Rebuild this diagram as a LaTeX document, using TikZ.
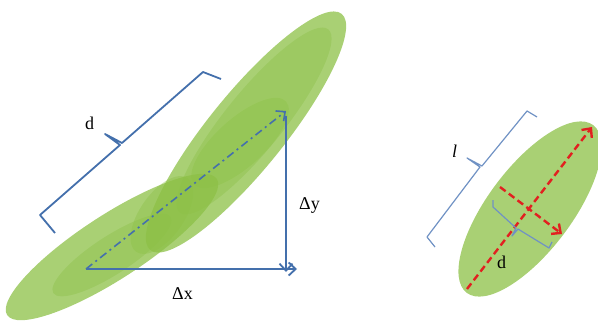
\documentclass[tikz,border=0pt]{standalone}
\usepackage{fontspec}
\setmainfont{Liberation Serif}
\usepackage{tikz}
\usetikzlibrary{calc,arrows.meta,positioning}
\usepackage{xcolor}
\definecolor{leafgreen}{RGB}{140,192,70}
\definecolor{dimblue}{RGB}{68,112,172}
\definecolor{thinblue}{RGB}{112,146,196}
\definecolor{arrowred}{RGB}{226,32,32}

\begin{document}
\begin{tikzpicture}[x=1pt, y=-1pt,
  every node/.style={font=\fontsize{18}{20}\selectfont, inner sep=0pt},
  leaf/.style={fill=leafgreen, fill opacity=0.75},
  core/.style={fill=leafgreen, fill opacity=0.4},
  vec/.style={dimblue, line width=1.8pt, -{Straight Barb[length=7pt, width=13pt]}},
  axis/.style={arrowred, line width=2.4pt, dash pattern=on 7pt off 4pt,
    -{Straight Barb[length=7pt, width=13pt]}},
  bigbrkt/.style={dimblue, line width=1.8pt, line join=round},
  smallbrkt/.style={thinblue, line width=1.2pt, line join=round}]
\useasboundingbox (0,0) rectangle (598,324);

% Left: chain of overlapping cells
\fill[leaf, rotate around={33:(112,247)}] (112,247) ellipse (125 and 32);
\fill[leaf, rotate around={51:(246,132)}] (246,132) ellipse (152 and 38);
\fill[core, rotate around={51:(254,121)}] (254,121) ellipse (118 and 29);
\fill[core, rotate around={33:(112,255)}] (112,255) ellipse (70 and 19);
\fill[core, rotate around={55:(162,215)}] (162,215) ellipse (45 and 22);
\fill[core, rotate around={42:(240,143)}] (240,143) ellipse (62 and 24);

\coordinate (org) at (86,269);
\coordinate (tip) at (286,111);
\coordinate (top) at (286,116);
\coordinate (bot) at (286,272);
\coordinate (rgt) at (297,269);

\draw[vec, line width=1.6pt, dash pattern=on 8pt off 4pt on 2pt off 4pt] (org) -- (tip);
\draw[vec] (top) -- (bot);
\draw[vec] (org) -- (rgt);

\node[anchor=base west] (dy) at (299,209) {Δy};
\node[anchor=base west] (dx) at (172,299) {Δx};

% bracket d (left)
\draw[bigbrkt] (55,233) -- (40,215) -- (120,145) -- (105,134) -- (122,143) -- (203,72) -- (221,79);
\node[anchor=base west] (dlen) at (85,129) {d};

% Right: single cell
\fill[leaf, rotate around={53:(530,209)}] (530,209) ellipse (105 and 42);

\coordinate (lo) at (467,289);
\coordinate (hi) at (592,127);
\coordinate (wl) at (500,187);
\coordinate (wr) at (562,234);
\draw[axis] (lo) -- (hi);
\draw[axis] (wl) -- (wr);

% bracket l
\draw[smallbrkt] (435,247) -- (427,237) -- (480,167) -- (467,158) -- (482,166) -- (527,111) -- (537,117);
\node[anchor=base west] (llen) at (452,157) {\itshape l};

% bracket d (right)
\draw[smallbrkt] (493,200) -- (493,207) -- (516,228) -- (512,236) -- (518,229) -- (549,248) -- (552,242);
\node[anchor=base west] (dwid) at (497,268) {d};

\end{tikzpicture}
\end{document}
